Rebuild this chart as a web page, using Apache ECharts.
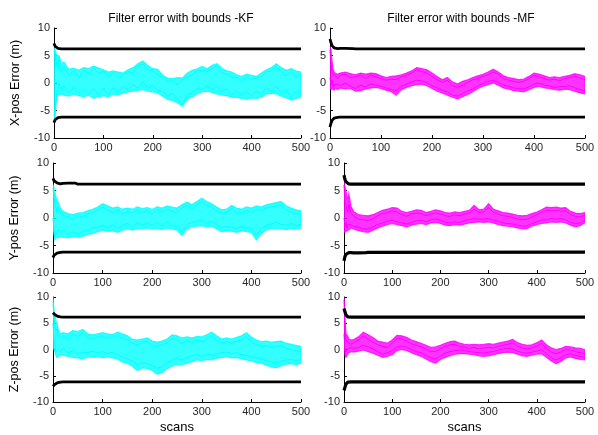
<!DOCTYPE html>
<html><head><meta charset="utf-8">
<script src="https://cdn.jsdelivr.net/npm/echarts/dist/echarts.min.js"></script>
<style>html,body{margin:0;padding:0;background:#fff}#c{width:598px;height:435px}</style>
</head><body><div id="c"></div>
<script>
// x positions (scans) at which the traces / envelopes were read
const scans = [0,2,4,6,8,10,15,20,
  30,40,50,60,70,80,90,100,
  110,120,130,140,150,160,170,180,190,200,
  210,220,230,240,250,260,270,280,290,300,
  310,320,330,340,350,360,370,380,390,400,
  410,420,430,440,450,460,470,480,490,500];
const boundScans = [0,2,4,6,8,10,15,20,30,45,50,500];
const xTicks = [0,100,200,300,400,500];
const yTicks = [-10,-5,0,5,10];
const titles = ['Filter error with bounds -KF','Filter error with bounds -MF'];
const yNames = ['X-pos Error (m)','Y-pos Error (m)','Z-pos Error (m)'];
const xName = 'scans';

// ---- X KF ----
const xkfUp = [6.5,6.0,5.5,4.5,5.0,5.0,3.5,3.8, 2.5,2.7,2.3,2.8,2.6,3.1,2.7,2.4, 2.0,2.2,2.0,1.8,2.4,2.8,3.5,4.0,3.2,2.6, 2.5,1.4,0.9,0.8,1.0,0.9,1.8,2.3,2.6,3.0, 2.6,3.2,3.5,2.7,2.2,2.0,1.5,1.2,1.6,1.4, 1.2,1.8,2.4,2.8,3.5,2.8,2.3,2.6,2.2,2.0];
const xkfLo = [-7.0,-6.5,-4.0,-2.5,-2.0,-2.2,-2.0,-2.2, -2.4,-2.0,-2.3,-2.5,-2.2,-2.8,-2.5,-2.3, -2.5,-2.0,-2.2,-1.8,-1.6,-1.5,-1.3,-1.2,-1.5,-1.6, -1.8,-2.4,-3.0,-3.2,-3.6,-4.2,-3.0,-2.5,-2.0,-1.6, -1.5,-1.7,-2.0,-2.2,-2.3,-2.6,-2.6,-2.8,-3.0,-2.7, -2.8,-2.6,-2.0,-1.9,-2.0,-2.4,-2.7,-3.1,-2.8,-2.5];
const xkfA = [6.0,5.5,3.0,4.0,2.5,4.5,2.0,3.0, 1.5,2.2,1.0,2.3,1.6,2.7,1.8,2.1, 1.2,1.9,0.9,1.5,2.0,1.9,3.1,3.5,2.4,2.2, 1.5,1.0,0.2,0.5,-0.3,0.6,1.2,1.5,2.2,2.3, 2.1,2.6,3.1,1.8,1.6,1.0,1.1,0.4,1.2,0.6, 0.9,1.2,2.0,2.2,3.0,2.0,1.3,2.1,1.2,1.6];
const xkfB = [-6.0,-5.0,-3.0,-1.5,-1.0,0.0,-1.5,-0.5, -1.8,-0.8,-1.9,-1.2,-2.0,-1.0,-2.2,-0.9, -2.1,-0.8,-1.7,-0.6,-1.2,-0.3,-0.9,0.2,-1.0,-0.4, -1.3,-1.6,-2.4,-1.9,-3.0,-3.8,-2.1,-1.8,-1.0,-1.2, -0.5,-1.2,-0.6,-1.6,-1.1,-2.2,-1.5,-2.3,-1.6,-2.4, -1.5,-2.1,-0.8,-1.5,-0.6,-1.9,-1.2,-2.6,-1.4,-2.0];
const xkfBndUp = [7.2,6.7,6.5,6.4,6.3,6.25,6.2,6.2,6.2,6.2,6.2,6.2];
const xkfBndLo = [-7.2,-6.7,-6.5,-6.4,-6.3,-6.25,-6.2,-6.2,-6.2,-6.2,-6.2,-6.2];

// ---- X MF ----
const xmfUp = [6.6,6.0,4.0,2.5,2.0,1.8,1.6,1.8, 2.0,1.7,1.5,1.8,1.6,1.8,1.7,1.3, 1.0,1.2,1.3,1.5,1.8,2.2,2.8,2.6,2.4,1.8, 1.2,0.6,1.0,0.2,-0.2,0.3,0.6,1.0,1.3,1.6, 2.0,2.5,2.0,1.3,1.0,0.8,0.6,0.7,1.2,1.8, 1.6,1.3,1.0,1.1,1.0,1.2,1.4,1.7,1.5,1.2];
const xmfLo = [-1.0,-1.2,-1.0,-1.2,-1.3,-1.0,-1.2,-0.9, -1.1,-1.0,-1.5,-1.4,-1.1,-0.9,-0.8,-1.0, -1.3,-1.6,-2.2,-1.2,-0.8,-0.5,-0.3,-0.2,-0.5,-1.0, -1.5,-1.8,-2.2,-2.6,-2.9,-2.5,-2.1,-1.6,-1.0,-0.6, -0.3,0.0,-0.4,-0.9,-1.1,-1.4,-1.5,-1.6,-1.2,-0.8, -0.6,-0.9,-1.0,-1.2,-1.3,-1.1,-1.2,-1.5,-1.8,-2.0];
const xmfA = [6.0,3.5,2.0,1.5,1.2,1.4,0.8,1.4, 1.6,1.0,1.1,1.4,0.8,1.5,1.1,0.8, 0.5,0.7,0.6,1.1,1.4,1.8,2.4,2.1,1.8,1.2, 0.6,0.1,0.5,-0.5,-0.8,-0.4,0.1,0.6,0.8,1.2, 1.5,2.0,1.6,0.8,0.5,0.3,0.1,0.3,0.8,1.4, 1.1,0.8,0.5,0.7,0.4,0.8,1.0,1.2,0.9,0.6];
const xmfB = [1.0,-0.5,0.5,-0.8,-0.3,-0.6,-0.2,-0.5, 0.0,-0.6,-1.0,-0.4,-0.7,-0.2,-0.4,-0.6, -0.9,-1.2,-1.4,-0.6,-0.2,0.2,0.5,0.4,0.1,-0.5, -0.9,-1.3,-1.6,-2.2,-2.4,-1.9,-1.4,-1.1,-0.5,-0.1, 0.3,0.5,0.1,-0.4,-0.6,-0.9,-1.0,-1.1,-0.7,-0.2, 0.0,-0.4,-0.5,-0.8,-0.7,-0.6,-0.5,-0.9,-1.2,-1.4];
const xmfBndUp = [8.0,7.3,6.8,6.5,6.4,6.3,6.25,6.3,6.3,6.25,6.2,6.2];
const xmfBndLo = [-8.0,-7.3,-6.8,-6.5,-6.4,-6.3,-6.25,-6.2,-6.2,-6.2,-6.2,-6.2];

// ---- Y KF ----
const ykfUp = [6.0,5.5,4.5,3.8,3.2,3.0,1.8,1.2, 0.8,0.6,0.9,1.0,1.3,1.6,2.0,2.6, 2.2,1.8,2.0,1.6,1.8,1.6,2.0,1.7,1.9,1.6, 2.0,1.8,2.2,2.0,1.8,2.4,2.9,2.4,3.0,3.6, 3.0,2.6,2.0,1.5,1.6,2.3,1.8,1.6,2.0,1.8, 2.2,2.0,2.4,2.6,2.8,3.0,2.2,1.8,1.5,1.3];
const ykfLo = [-1.0,-3.0,-4.0,-3.6,-3.5,-3.6,-3.3,-3.5, -3.6,-3.4,-3.5,-3.3,-3.0,-2.8,-2.5,-2.2, -2.4,-2.3,-2.6,-2.2,-2.0,-2.2,-1.9,-2.0,-1.8,-2.0, -1.9,-2.1,-1.8,-2.0,-2.2,-3.2,-2.0,-1.6,-1.5,-1.4, -1.6,-1.5,-2.0,-2.5,-2.3,-2.4,-2.6,-2.3,-2.5,-2.6, -4.0,-2.8,-2.2,-2.0,-1.9,-2.0,-2.1,-1.9,-2.0,-1.8];
const ykfA = [5.5,4.0,2.5,2.0,1.0,2.0,0.8,0.5, 0.2,-0.3,0.4,0.2,0.8,0.9,1.5,2.0, 1.4,1.0,1.5,0.8,1.2,0.9,1.5,1.0,1.4,0.8, 1.5,1.1,1.6,1.2,1.0,1.8,2.3,1.6,2.4,3.0, 2.2,1.9,1.3,0.8,1.1,1.7,1.0,0.9,1.4,1.0, 1.6,1.3,1.8,2.0,2.2,2.4,1.5,1.1,0.8,0.7];
const ykfB = [0.0,-2.0,-3.5,-2.5,-3.0,-2.0,-2.8,-2.2, -3.0,-2.5,-3.0,-2.4,-2.3,-1.8,-1.7,-1.3, -1.8,-1.2,-1.9,-1.3,-1.0,-1.6,-0.8,-1.3,-0.9,-1.4, -0.8,-1.5,-0.7,-1.4,-1.6,-2.6,-1.2,-0.8,-0.6,-0.4, -0.9,-0.6,-1.2,-1.8,-1.5,-1.7,-1.9,-1.5,-1.8,-1.9, -3.2,-1.9,-1.3,-1.1,-0.8,-1.2,-1.3,-1.0,-1.4,-1.1];
const ykfBndUp = [7.2,6.8,6.6,6.5,6.4,6.3,6.2,6.3,6.35,6.35,6.15,6.15];
const ykfBndLo = [-7.2,-6.8,-6.6,-6.5,-6.4,-6.3,-6.25,-6.2,-6.2,-6.2,-6.2,-6.2];

// ---- Y MF ----
const ymfUp = [7.0,5.5,5.0,4.0,3.0,4.4,2.0,1.2, 0.6,0.5,0.4,0.6,1.0,1.4,1.6,1.9, 1.8,1.2,1.0,1.2,1.5,1.4,1.0,1.2,1.5,1.3, 1.0,0.9,1.1,1.0,1.2,1.4,2.3,1.5,1.6,2.6, 1.6,1.3,1.0,0.9,0.7,0.5,0.4,0.5,0.8,1.1, 1.5,2.0,1.9,2.0,1.8,1.9,1.2,0.9,0.8,1.0];
const ymfLo = [-2.5,-2.6,-2.2,-2.4,-2.0,-2.2,-1.8,-2.0, -2.3,-2.5,-2.6,-2.2,-1.8,-1.5,-1.2,-1.0, -1.2,-1.4,-1.6,-1.3,-1.1,-1.0,-1.2,-0.9,-0.8,-1.0, -1.3,-1.4,-1.2,-1.3,-1.1,-0.9,-0.8,-0.7,-0.8,-0.7, -0.9,-1.2,-1.4,-1.5,-1.6,-1.8,-2.0,-1.9,-1.5,-1.2, -1.0,-0.9,-0.7,-0.8,-0.7,-0.9,-1.3,-1.6,-1.4,-0.8];
const ymfA = [6.0,3.0,2.5,1.5,1.0,2.5,0.8,0.3, -0.2,-0.3,-0.5,-0.1,0.4,0.8,1.0,1.3, 1.1,0.6,0.3,0.7,0.9,0.8,0.4,0.7,0.9,0.7, 0.4,0.3,0.6,0.4,0.7,0.9,1.6,1.0,1.1,1.9, 1.0,0.7,0.4,0.3,0.1,-0.2,-0.3,-0.2,0.2,0.6, 1.0,1.4,1.3,1.4,1.2,1.3,0.6,0.3,0.2,0.5];
const ymfB = [0.0,-1.5,-0.8,-1.8,-1.2,-1.5,-1.2,-1.5, -1.7,-1.9,-2.0,-1.6,-1.2,-0.9,-0.6,-0.4, -0.7,-0.9,-1.1,-0.8,-0.5,-0.4,-0.7,-0.3,-0.2,-0.4, -0.8,-0.9,-0.7,-0.8,-0.5,-0.3,-0.1,-0.2,-0.2,-0.1, -0.4,-0.6,-0.9,-1.0,-1.1,-1.3,-1.5,-1.4,-1.0,-0.7, -0.4,-0.3,-0.1,-0.2,-0.1,-0.3,-0.8,-1.0,-0.9,-0.3];
const ymfBndUp = [7.8,7.0,6.6,6.4,6.3,6.2,6.15,6.15,6.15,6.15,6.15,6.15];
const ymfBndLo = [-7.8,-7.0,-6.6,-6.4,-6.3,-6.3,-6.3,-6.35,-6.35,-6.3,-6.25,-6.2];

// ---- Z KF ----
const zkfUp = [10.0,7.5,6.5,5.5,5.0,4.0,3.0,3.2, 3.0,3.6,3.4,3.8,3.0,2.8,3.0,3.2, 3.0,2.8,3.3,3.0,2.6,2.0,1.8,2.0,2.2,1.6, 1.4,1.6,2.0,2.8,2.6,2.2,2.4,2.2,2.5,2.4, 2.8,3.3,2.6,2.0,2.2,2.0,2.3,2.6,3.2,2.4, 1.8,1.5,1.6,1.4,1.5,1.6,1.2,1.0,0.8,0.6];
const zkfLo = [1.0,0.0,-0.5,-1.2,-1.5,-1.4,-1.0,-1.1, -1.3,-1.5,-1.6,-1.8,-1.4,-1.5,-1.3,-1.6, -1.4,-1.6,-1.8,-2.4,-2.6,-3.2,-4.0,-3.5,-3.6,-4.0, -4.7,-4.4,-3.6,-3.2,-2.8,-2.9,-2.6,-2.3,-2.0,-2.1, -1.9,-2.0,-1.7,-1.5,-1.4,-1.6,-1.5,-1.8,-2.0,-2.2, -2.5,-2.6,-3.0,-3.3,-3.5,-3.1,-2.8,-2.7,-2.9,-2.6];
const zkfA = [9.0,6.0,4.5,3.5,4.0,2.5,2.2,2.6, 2.0,3.0,2.4,3.1,2.2,2.0,2.4,2.6, 2.1,2.3,2.6,2.1,1.8,1.2,0.9,1.3,1.5,0.8, 0.5,0.9,1.3,2.1,1.8,1.2,1.7,1.3,1.8,1.5, 2.0,2.6,1.7,1.2,1.5,1.2,1.6,1.8,2.4,1.5, 0.9,0.6,0.7,0.4,0.6,0.7,0.2,0.0,-0.3,-0.5];
const zkfB = [5.0,2.0,0.5,-0.5,-0.8,0.0,-0.4,0.2, -0.6,-0.2,-0.9,-0.5,-0.6,-0.3,-0.7,-0.4, -0.8,-0.5,-1.0,-1.5,-1.8,-2.2,-2.9,-2.5,-2.7,-3.1, -3.6,-3.2,-2.6,-2.0,-1.7,-2.0,-1.5,-1.2,-1.0,-1.3, -0.9,-1.1,-0.8,-0.6,-0.5,-0.8,-0.6,-1.0,-1.1,-1.4, -1.6,-1.8,-2.1,-2.4,-2.6,-2.2,-2.0,-1.9,-2.1,-1.9];
const zkfBndUp = [7.0,6.8,6.6,6.5,6.4,6.3,6.2,6.15,6.15,6.15,6.15,6.15];
const zkfBndLo = [-7.0,-6.8,-6.6,-6.5,-6.4,-6.3,-6.2,-6.15,-6.15,-6.15,-6.15,-6.15];

// ---- Z MF ----
const zmfUp = [10.0,6.0,3.0,2.8,2.5,2.0,1.8,1.9, 2.4,3.3,2.8,2.3,1.6,1.4,1.2,1.8, 2.7,2.6,2.3,1.8,1.5,1.2,0.8,0.4,0.5,0.8, 1.2,1.5,1.6,1.2,1.0,0.9,1.0,0.9,1.0,1.1, 1.0,1.2,1.4,1.6,1.9,1.3,1.0,0.8,0.9,1.3, 1.8,0.9,0.3,0.0,0.2,0.6,0.5,0.3,0.2,0.0];
const zmfLo = [1.0,-1.0,-1.5,-1.2,-0.8,-0.6,-0.4,-0.5, -0.3,-0.1,-0.4,-0.7,-1.1,-1.5,-1.3,-1.0, -0.2,0.0,-0.2,-0.6,-1.0,-1.3,-1.8,-2.3,-2.6,-1.9, -1.5,-1.2,-0.9,-0.8,-0.8,-0.9,-1.0,-1.2,-1.3,-1.2, -1.0,-0.8,-0.6,-0.5,-0.6,-0.9,-1.2,-1.3,-1.1,-0.9, -0.8,-1.5,-2.2,-2.7,-2.3,-1.6,-1.4,-1.7,-1.9,-2.0];
const zmfA = [9.5,3.5,1.8,2.0,1.5,1.2,1.0,1.3, 1.8,2.6,2.0,1.4,0.9,0.6,0.4,1.2, 2.1,2.0,1.6,1.1,0.8,0.5,0.1,-0.4,-0.4,0.1, 0.6,0.9,1.0,0.6,0.4,0.2,0.4,0.1,0.3,0.4, 0.3,0.6,0.8,1.0,1.3,0.6,0.3,0.1,0.3,0.6, 1.2,0.2,-0.5,-0.8,-0.5,0.0,-0.1,-0.4,-0.6,-0.8];
const zmfB = [3.0,0.0,-0.5,-0.2,0.2,0.0,0.3,0.2, 0.4,0.8,0.5,0.1,-0.4,-0.9,-0.6,-0.2, 0.5,0.7,0.4,0.0,-0.4,-0.6,-1.1,-1.6,-1.8,-1.2, -0.7,-0.4,-0.2,-0.1,-0.2,-0.4,-0.5,-0.6,-0.7,-0.5, -0.4,-0.1,0.1,0.2,0.1,-0.3,-0.6,-0.7,-0.5,-0.3, -0.1,-0.8,-1.6,-2.0,-1.6,-1.0,-0.8,-1.1,-1.3,-1.5];
const zmfBndUp = [7.8,7.2,6.6,6.3,6.2,6.15,6.15,6.15,6.15,6.15,6.15,6.15];
const zmfBndLo = [-7.8,-7.2,-6.6,-6.3,-6.2,-6.15,-6.15,-6.15,-6.15,-6.15,-6.15,-6.15];

const CYAN = '#00FFFF', MAGENTA = '#FF00FF';
const FONT = 'Liberation Sans, Arial, sans-serif';

const panels = [
  {grid:{left:54, top:28, width:247, height:110}, up:xkfUp, lo:xkfLo, a:xkfA, b:xkfB, bu:xkfBndUp, bl:xkfBndLo, color:CYAN, yName:yNames[0], xName:'', bw:2.8},
  {grid:{left:330, top:28, width:255, height:110}, up:xmfUp, lo:xmfLo, a:xmfA, b:xmfB, bu:xmfBndUp, bl:xmfBndLo, color:MAGENTA, yName:'', xName:'', bw:2.8},
  {grid:{left:53, top:163, width:248, height:110}, up:ykfUp, lo:ykfLo, a:ykfA, b:ykfB, bu:ykfBndUp, bl:ykfBndLo, color:CYAN, yName:yNames[1], xName:'', bw:2.8},
  {grid:{left:344, top:163, width:241, height:110}, up:ymfUp, lo:ymfLo, a:ymfA, b:ymfB, bu:ymfBndUp, bl:ymfBndLo, color:MAGENTA, yName:'', xName:'', bw:3.2},
  {grid:{left:53, top:297, width:248, height:110}, up:zkfUp, lo:zkfLo, a:zkfA, b:zkfB, bu:zkfBndUp, bl:zkfBndLo, color:CYAN, yName:yNames[2], xName:xName, bw:2.8},
  {grid:{left:344, top:297, width:241, height:110}, up:zmfUp, lo:zmfLo, a:zmfA, b:zmfB, bu:zmfBndUp, bl:zmfBndLo, color:MAGENTA, yName:'', xName:xName, bw:3.2}
];

const grids = [], xAxes = [], yAxes = [], series = [];
panels.forEach((p, i) => {
  grids.push(Object.assign({containLabel:false}, p.grid));
  xAxes.push({
    gridIndex:i, type:'value', min:xTicks[0], max:xTicks[xTicks.length-1], interval:xTicks[1]-xTicks[0],
    axisLine:{show:true, onZero:false, lineStyle:{color:'#000', width:1}},
    axisTick:{show:true, inside:true, length:3, lineStyle:{color:'#000'}},
    axisLabel:{fontSize:11, color:'#262626', margin:4, fontFamily:FONT, showMinLabel:true, showMaxLabel:true},
    splitLine:{show:false},
    name:p.xName, nameLocation:'middle', nameGap:19,
    nameTextStyle:{fontSize:13, color:'#000', fontFamily:FONT}
  });
  yAxes.push({
    gridIndex:i, type:'value', min:yTicks[0], max:yTicks[yTicks.length-1], interval:yTicks[1]-yTicks[0],
    axisLine:{show:true, onZero:false, lineStyle:{color:'#000', width:1}},
    axisTick:{show:true, inside:true, length:3, lineStyle:{color:'#000'}},
    axisLabel:{fontSize:11, color:'#262626', margin:4, fontFamily:FONT, showMinLabel:true, showMaxLabel:true},
    splitLine:{show:false},
    name:p.yName, nameLocation:'middle', nameGap:32, nameRotate:90,
    nameTextStyle:{fontSize:12.5, color:'#000', fontFamily:FONT}
  });
  const base = {type:'line', xAxisIndex:i, yAxisIndex:i, symbol:'none', silent:true, animation:false};
  // spread of the Monte-Carlo runs: filled polygon between read upper / lower envelopes
  series.push({
    type:'custom', coordinateSystem:'cartesian2d', xAxisIndex:i, yAxisIndex:i, silent:true,
    data: [[scans[0], p.lo[0], p.up[0]]],
    encode:{x:0, y:[1,2]},
    clip:true,
    renderItem:(params, api) => {
      const top = scans.map((s,k)=>api.coord([s, p.up[k]]));
      const bot = scans.map((s,k)=>api.coord([s, p.lo[k]])).reverse();
      return {type:'polygon', shape:{points: top.concat(bot)},
        style:{fill:p.color, opacity:0.8, stroke:p.color, lineWidth:1.2}};
    }
  });
  [p.a, p.b].forEach(tr => series.push(Object.assign({}, base, {
    data: scans.map((s,k)=>[s, tr[k]]),
    lineStyle:{width:1, color:p.color}
  })));
  [p.bu, p.bl].forEach(bd => series.push(Object.assign({}, base, {
    data: boundScans.map((s,k)=>[s, bd[k]]),
    lineStyle:{width:p.bw, color:'#000'}, z:5
  })));
});

const chart = echarts.init(document.getElementById('c'), null, {renderer:'canvas'});
chart.setOption({
  animation:false,
  backgroundColor:'#fff',
  title:[
    {text:titles[0], left:176, top:8, textAlign:'center', textStyle:{fontSize:12, fontWeight:'normal', color:'#000', fontFamily:FONT}},
    {text:titles[1], left:456, top:8, textAlign:'center', textStyle:{fontSize:12, fontWeight:'normal', color:'#000', fontFamily:FONT}}
  ],
  grid:grids, xAxis:xAxes, yAxis:yAxes, series:series
});
</script></body></html>
